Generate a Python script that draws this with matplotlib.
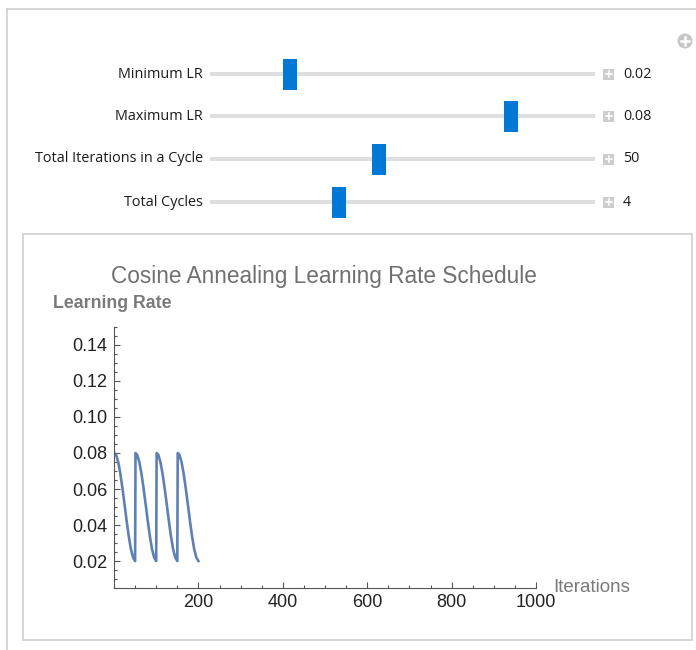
import matplotlib.pyplot as plt
from matplotlib.patches import Rectangle, Circle
from matplotlib.ticker import MultipleLocator

# slider panel
slider_labels = ["Minimum LR", "Maximum LR", "Total Iterations in a Cycle", "Total Cycles"]
slider_values = ["0.02", "0.08", "50", "4"]
handle_x = [290, 511, 379, 339]          # pixel position of each slider knob
row_y = [74, 116, 159, 202]

# one cosine cycle (iteration within cycle -> learning rate)
cycle_iter = [1, 5, 10, 15, 20, 25, 30, 35, 40, 45, 50]
cycle_lr = [0.0800, 0.0790, 0.0750, 0.0686, 0.0605, 0.0515, 0.0422, 0.0337, 0.0267, 0.0220, 0.0200]
cycle_start = [0, 50, 100, 150]

iterations = [s + i for s in cycle_start for i in cycle_iter]
learning_rate = [lr for s in cycle_start for lr in cycle_lr]

W, H = 696, 650
fig = plt.figure(figsize=(W / 100, H / 100), dpi=100)
fig.patch.set_facecolor("white")

# overlay in pixel coordinates for the widget chrome
ui = fig.add_axes([0, 0, 1, 1])
ui.set_xlim(0, W)
ui.set_ylim(H, 0)
ui.axis("off")

border = "#cfcfcf"
ui.plot([7, W], [9, 9], color=border, lw=1.2)
ui.plot([7, 7], [9, H], color=border, lw=1.2)
ui.add_patch(Rectangle((23, 234), 669, 406, fc="white", ec=border, lw=1.2))

ui.add_patch(Circle((685, 41), 7.5, fc="#c6c6c6", ec="none"))
ui.plot([681, 689], [41, 41], color="white", lw=1.8)
ui.plot([685, 685], [37, 45], color="white", lw=1.8)

ui_font = ["Open Sans", "DejaVu Sans"]
for lab, val, hx, y in zip(slider_labels, slider_values, handle_x, row_y):
    ui.text(203, y, lab, ha="right", va="center", fontsize=10.4, family=ui_font, color="#1a1a1a")
    ui.add_patch(Rectangle((210, y - 2), 385, 4, fc="#dedede", ec="none"))
    ui.add_patch(Rectangle((hx - 7, y - 15.5), 14, 31, fc="#0078d7", ec="none"))
    ui.add_patch(Rectangle((603, y - 5.5), 11, 11, fc="#cdcdcd", ec="none"))
    ui.plot([605.5, 611.5], [y, y], color="white", lw=1.2)
    ui.plot([608.5, 608.5], [y - 3, y + 3], color="white", lw=1.2)
    ui.text(623, y, val, ha="left", va="center", fontsize=10.4, family=ui_font, color="#1a1a1a")

# the plot
ax = fig.add_axes([114 / W, 1 - 588 / H, 422 / W, (588 - 327) / H])
ax.patch.set_alpha(0)
ax.plot(iterations, learning_rate, color="#5e81b5", lw=1.9)
ax.set_xlim(0, 1000)
ax.set_ylim(0.005, 0.15)

for s in ["top", "right"]:
    ax.spines[s].set_visible(False)
for s in ["left", "bottom"]:
    ax.spines[s].set_color("#555555")
    ax.spines[s].set_linewidth(0.8)

ax.xaxis.set_major_locator(MultipleLocator(200))
ax.xaxis.set_minor_locator(MultipleLocator(50))
ax.yaxis.set_major_locator(MultipleLocator(0.02))
ax.yaxis.set_minor_locator(MultipleLocator(0.005))
ax.set_xticks([200, 400, 600, 800, 1000])
ax.set_yticks([0.02, 0.04, 0.06, 0.08, 0.10, 0.12, 0.14])
ax.set_yticklabels(["0.02", "0.04", "0.06", "0.08", "0.10", "0.12", "0.14"])
ax.tick_params(which="both", direction="in", color="#555555", width=0.8,
               labelsize=13, labelcolor="#222222")
ax.tick_params(which="major", length=4.5)
ax.tick_params(axis="y", which="major", pad=5)
ax.tick_params(axis="x", which="major", pad=4)
ax.tick_params(which="minor", length=2.5)
for t in ax.get_xticklabels() + ax.get_yticklabels():
    t.set_family("Liberation Sans")

ui.text(324, 277, "Cosine Annealing Learning Rate Schedule", ha="center", va="center",
        fontsize=16.3, family="Liberation Sans", color="#707070")
ui.text(53, 304, "Learning Rate", ha="left", va="center", fontsize=12.8,
        family="Liberation Sans", fontweight="bold", color="#7a7a7a")
ui.text(553, 588, "Iterations", ha="left", va="center", fontsize=13.5,
        family="Liberation Sans", color="#7a7a7a")

fig.savefig("out.png", dpi=100)
